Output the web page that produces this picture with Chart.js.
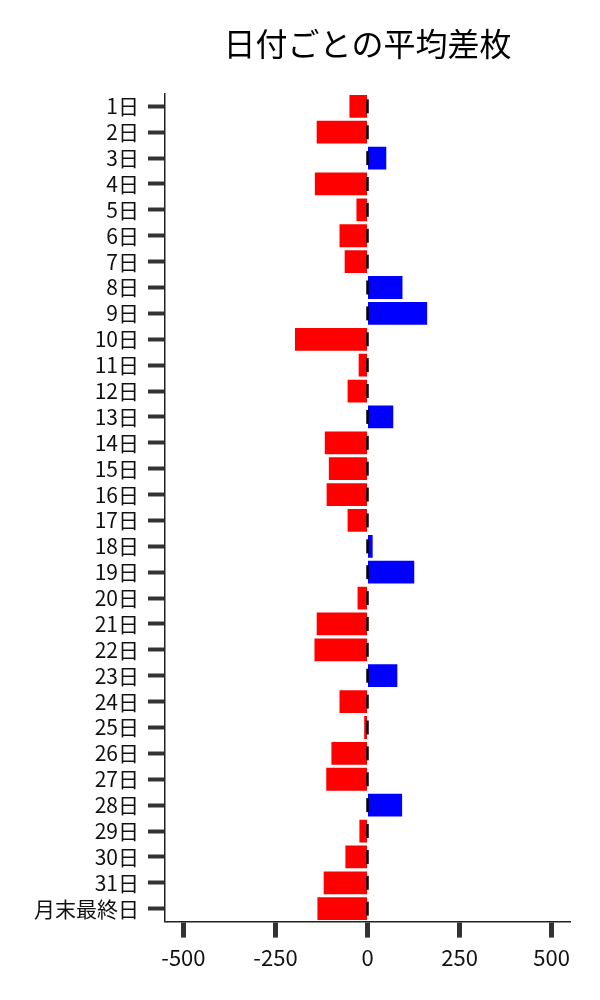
<!DOCTYPE html>
<html>
<head>
<meta charset="utf-8">
<script src="https://cdn.jsdelivr.net/npm/chart.js@4"></script>
<style>
html,body{margin:0;padding:0;background:#fff;}
canvas{display:block;}
</style>
</head>
<body>
<canvas id="c" width="600" height="1000"></canvas>
<script>
const dayLabels = ['1日','2日','3日','4日','5日','6日','7日','8日','9日','10日','11日','12日','13日','14日','15日','16日','17日','18日','19日','20日','21日','22日','23日','24日','25日','26日','27日','28日','29日','30日','31日','月末最終日'];
const avgDiff = [-49,-138,51,-143,-30,-76,-62,95,162,-197,-24,-54,70,-116,-105,-111,-54,14,127,-27,-138,-144,81,-76,-9,-98,-112,94,-22,-60,-119,-136];
const errMarks = [0,0,0,0,0,0,0,0,0,0,0,0,0,0,0,0,0,0,0,0,0,0,0,0,0,0,0,0,0,0,0,0];
const xTickValues = [-500,-250,0,250,500];
const chartTitle = '日付ごとの平均差枚';

const FONT = "'Noto Sans CJK JP','Noto Sans',sans-serif";

new Chart(document.getElementById('c'), {
  type: 'bar',
  data: {
    labels: dayLabels,
    datasets: [
      {
        type: 'bar',
        data: avgDiff,
        backgroundColor: avgDiff.map(v => v >= 0 ? '#0000ff' : '#ff0000'),
        borderWidth: 0,
        barPercentage: 0.88,
        categoryPercentage: 1.0,
        order: 2
      },
      {
        type: 'line',
        data: errMarks,
        showLine: false,
        pointStyle: 'line',
        rotation: 90,
        pointRadius: 7,
        pointHoverRadius: 7,
        borderColor: '#000',
        pointBorderColor: '#000',
        pointBorderWidth: 2.5,
        order: 1
      }
    ]
  },
  options: {
    indexAxis: 'y',
    responsive: false,
    animation: false,
    devicePixelRatio: 1,
    layout: { padding: { left: 25, right: 30, top: 12, bottom: 22 } },
    plugins: {
      legend: { display: false },
      tooltip: { enabled: false },
      title: {
        display: true,
        text: chartTitle,
        fullSize: false,
        color: '#000',
        font: { family: FONT, size: 32, weight: 'normal' },
        padding: { top: 13, bottom: 30 }
      }
    },
    scales: {
      x: {
        type: 'linear',
        min: -550,
        max: 550,
        afterBuildTicks: (scale) => { scale.ticks = xTickValues.map(v => ({ value: v })); },
        grid: {
          drawOnChartArea: false,
          drawTicks: true,
          tickLength: 16,
          tickWidth: 5,
          tickColor: '#333'
        },
        border: { display: true, color: '#222', width: 1.5 },
        ticks: {
          color: '#111',
          padding: 7,
          font: { family: FONT, size: 22 },
          callback: (v) => String(v)
        }
      },
      y: {
        type: 'category',
        offset: true,
        grid: {
          drawOnChartArea: false,
          drawTicks: true,
          tickLength: 17,
          tickWidth: 4,
          tickColor: '#333',
          offset: false
        },
        border: { display: true, color: '#222', width: 1.5 },
        ticks: {
          color: '#111',
          padding: 9,
          autoSkip: false,
          font: { family: FONT, size: 21 }
        }
      }
    }
  }
});
</script>
</body>
</html>
